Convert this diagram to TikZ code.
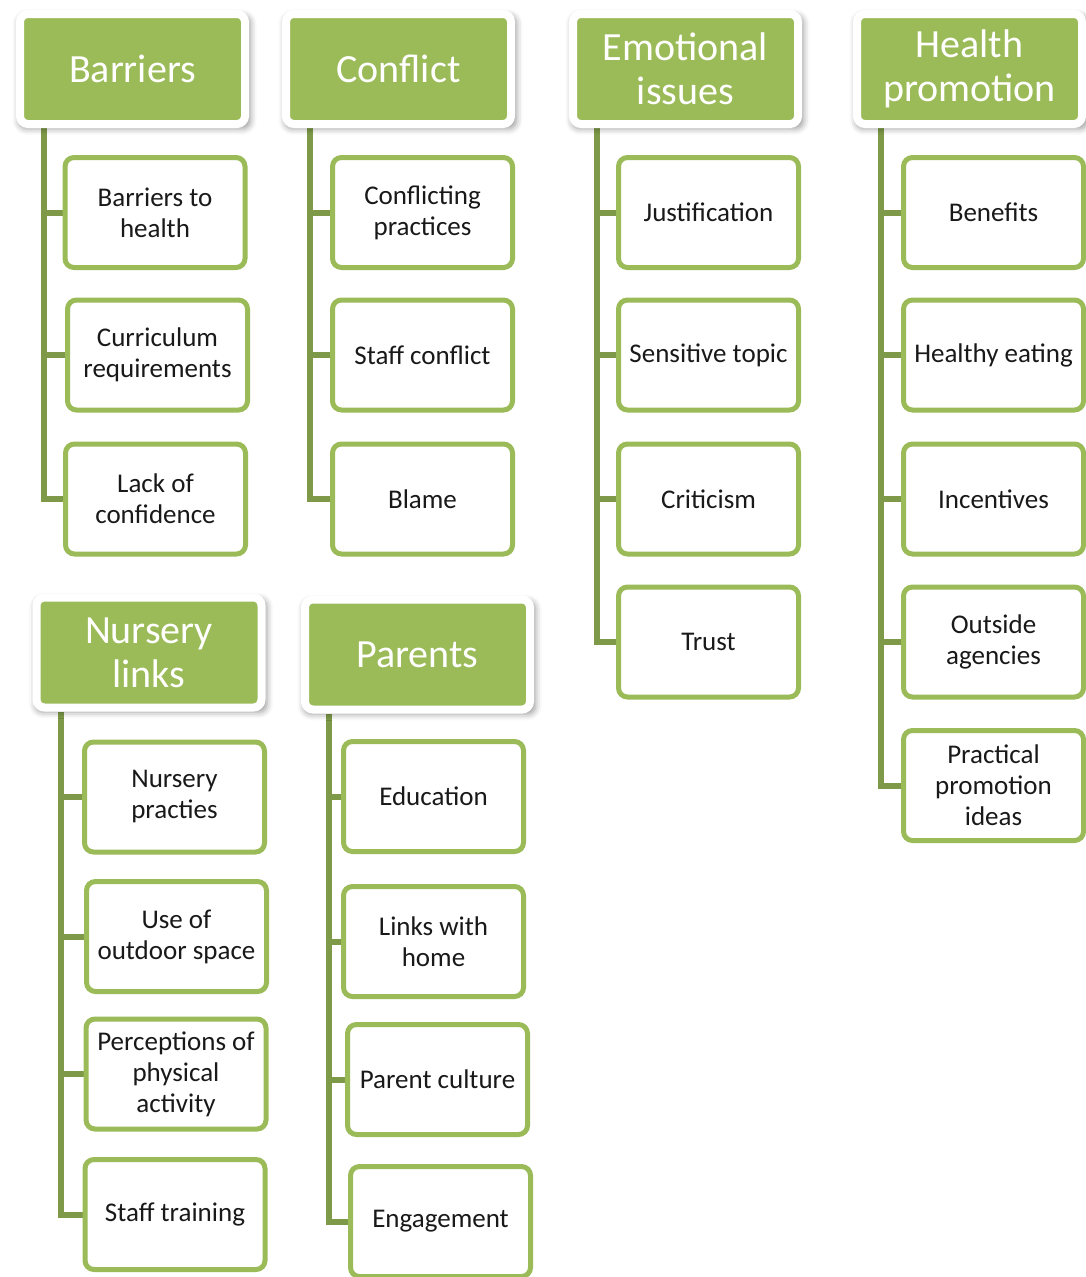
\documentclass[tikz,border=0pt]{standalone}
\usepackage{fontspec}
\setmainfont{Carlito}
\usetikzlibrary{calc,backgrounds,shadows.blur}
\definecolor{leaf}{HTML}{9BBB59}
\definecolor{stemgreen}{HTML}{7E9A48}
\tikzset{
  head/.style={rectangle, rounded corners=8pt, fill=leaf, draw=white, line width=8pt,
    minimum width=225pt, minimum height=110pt, inner sep=0pt, outer sep=0pt,
    text=white, align=center, font=\fontsize{40}{44}\selectfont,
    blur shadow={shadow xshift=2pt, shadow yshift=-3pt, shadow blur radius=6pt,
      shadow scale=1.03, shadow opacity=40}},
  item/.style={rectangle, rounded corners=9pt, fill=white, draw=leaf, line width=5pt,
    minimum width=180pt, minimum height=110pt, inner sep=0pt, outer sep=0pt,
    text=black!90, align=center, font=\fontsize{27}{31}\selectfont},
  branch/.style={draw=stemgreen, line width=6pt},
}
\begin{document}
\begin{tikzpicture}[x=1pt,y=-1pt]
\useasboundingbox (0,0) rectangle (1086,1277);

% Barriers
\node[head] (h1) at (132.5,69) {Barriers};
\node[item] (c11) at (155,212.5) {Barriers to\\health};
\node[item] (c12) at (157.5,355) {Curriculum\\requirements};
\node[item] (c13) at (155.5,499) {Lack of\\confidence};

% Conflict
\node[head] (h2) at (398.5,69) {Conflict};
\node[item] (c21) at (422.5,212.5) {Conflicting\\practices};
\node[item] (c22) at (422.5,355) {Staff conflict};
\node[item] (c23) at (422.5,499) {Blame};

% Emotional issues
\node[head] (h3) at (685.5,69) {Emotional\\issues};
\node[item] (c31) at (708.5,212.5) {Justification};
\node[item] (c32) at (708.5,355) {Sensitive topic};
\node[item] (c33) at (708.5,499) {Criticism};
\node[item] (c34) at (708.5,642) {Trust};

% Health promotion
\node[head] (h4) at (969.5,69) {Health\\promotion};
\node[item] (c41) at (993.5,212.5) {Benefits};
\node[item] (c42) at (993.5,355) {Healthy eating};
\node[item] (c43) at (993.5,499) {Incentives};
\node[item] (c44) at (993.5,642) {Outside\\agencies};
\node[item] (c45) at (993.5,785.5) {Practical\\promotion\\ideas};

% Nursery links
\node[head] (h5) at (149,652.5) {Nursery\\links};
\node[item] (c51) at (174.5,797) {Nursery\\practies};
\node[item] (c52) at (176.5,936.5) {Use of\\outdoor space};
\node[item] (c53) at (176,1074) {Perceptions of\\physical\\activity};
\node[item] (c54) at (175,1214.5) {Staff training};

% Parents
\node[head] (h6) at (417.5,654.5) {Parents};
\node[item] (c61) at (433.5,796.5) {Education};
\node[item] (c62) at (433.5,941.5) {Links with\\home};
\node[item] (c63) at (437.5,1079.5) {Parent culture};
\node[item] (c64) at (440.5,1221.5) {Engagement};

% trunks and ticks, kept behind the boxes
\begin{scope}[on background layer]
  \foreach \h/\last/\kids in {h1/c13/{c11,c12},h2/c23/{c21,c22},h3/c34/{c31,c32,c33},
                             h4/c45/{c41,c42,c43,c44},h5/c54/{c51,c52,c53},h6/c64/{c61,c62,c63}}{
    \coordinate (t\h) at ($(\h.south west)+(24,4)$);
    \draw[branch] (t\h) |- (\last.west);
    \foreach \k in \kids { \draw[branch] (t\h |- \k.west) -- (\k.west); }
  }
\end{scope}
\end{tikzpicture}
\end{document}
